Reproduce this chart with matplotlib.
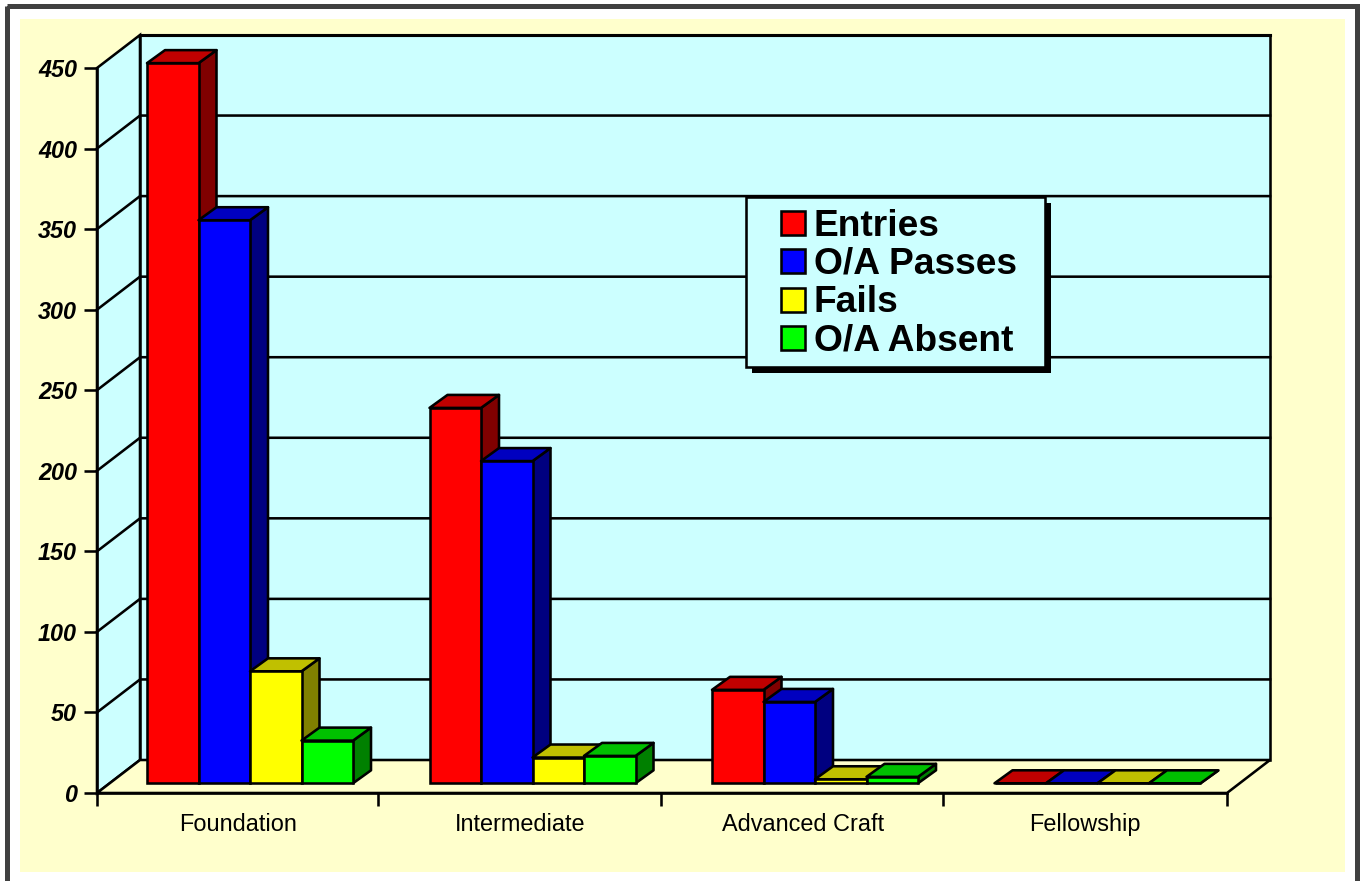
import matplotlib
matplotlib.use("Agg")
import matplotlib.pyplot as plt
import matplotlib.patheffects as pe
from matplotlib.legend_handler import HandlerPatch
from matplotlib.patches import Patch, Rectangle
from matplotlib.transforms import Affine2D

# ---- data ----
categories = ["Foundation", "Intermediate", "Advanced Craft", "Fellowship"]
series_names = ["Entries", "O/A Passes", "Fails", "O/A Absent"]
entries = [447, 233, 58, 0]
passes = [349.5, 200, 50.5, 0]
fails = [69.5, 16, 2.5, 0]
absent = [26.5, 17, 4, 0]
y_ticks = [0, 50, 100, 150, 200, 250, 300, 350, 400, 450]

# ---- styles ----
series_values = [entries, passes, fails, absent]
front_colors = ["#FF0000", "#0000FF", "#FFFF00", "#00FF00"]
side_colors = ["#800000", "#000080", "#808000", "#008000"]
top_colors = ["#C00000", "#0000C0", "#C0C000", "#00C000"]
WALL = "#CCFFFF"
PANEL = "#FFFFCC"
FRAME = "#404040"
W, H = 1364, 881
LW = 1.85

plt.rcParams["font.family"] = ["Liberation Sans", "DejaVu Sans"]
fig = plt.figure(figsize=(W / 100, H / 100), dpi=100, facecolor="white")

# pixel transform with a top-left origin, for the page decoration only
page = Affine2D().scale(1, -1).translate(0, H)
fig.add_artist(Rectangle((6.5, 5.5), 1350, 890, fill=False, ec=FRAME, lw=3.6, transform=page, zorder=-2))
fig.add_artist(Rectangle((20, 19), 1324.5, 853, fc=PANEL, ec="none", transform=page, zorder=-1))

ax = fig.add_axes([97 / W, (H - 793) / H, 1130 / W, 725 / H])
ax.patch.set_visible(False)
ax.set_xlim(0, 4)
ax.set_ylim(0, 450)

# oblique depth of the chart box, expressed in data units
px_x = 4 / 1130
px_y = 450 / 725
DX, DY = 43 * px_x, 33 * px_y
n = len(categories)
top = y_ticks[-1]

# walls and floor
ax.fill([0, DX, DX, 0], [0, DY, top + DY, top], fc=WALL, ec="black", lw=LW, clip_on=False, zorder=1)
ax.fill([DX, n + DX, n + DX, DX], [DY, DY, top + DY, top + DY], fc=WALL, ec="black", lw=LW, clip_on=False, zorder=1)
ax.fill([0, n, n + DX, DX], [0, 0, DY, DY], fc=PANEL, ec="black", lw=LW, clip_on=False, zorder=1)
for t in y_ticks[1:-1]:
    ax.plot([0, DX, n + DX], [t, t + DY, t + DY], color="black", lw=LW, clip_on=False, zorder=1.5)
ax.plot([DX, n + DX], [top + DY, top + DY], color="black", lw=LW * 1.2, clip_on=False, zorder=1.5)

# bars
front_x = 13 * px_x
front_y = 9.7 * px_y
depth_x = 18 * px_x
depth_y = 13 * px_y
gap = 37 * px_x
bar_w = 51.5 * px_x
z = 3
for c in range(n):
    for s, vals in enumerate(series_values):
        v = vals[c]
        x0 = c + gap + front_x + s * bar_w
        x1 = x0 + bar_w
        y0 = front_y
        y1 = front_y + v
        ax.fill([x1, x1 + depth_x, x1 + depth_x, x1], [y0, y0 + depth_y, y1 + depth_y, y1],
                fc=side_colors[s], ec="black", lw=LW, joinstyle="round", clip_on=False, zorder=z)
        ax.fill([x0, x1, x1 + depth_x, x0 + depth_x], [y1, y1, y1 + depth_y, y1 + depth_y],
                fc=top_colors[s], ec="black", lw=LW, joinstyle="round", clip_on=False, zorder=z)
        ax.bar(x0, v, width=bar_w, bottom=y0, align="edge", color=front_colors[s],
               edgecolor="black", linewidth=LW, clip_on=False, zorder=z + 0.5)
        z += 1

# axes, ticks, labels
for side in ("top", "right"):
    ax.spines[side].set_visible(False)
for side in ("left", "bottom"):
    ax.spines[side].set_linewidth(LW)
    ax.spines[side].set_zorder(2)
ax.set_yticks(y_ticks)
ax.set_yticklabels([str(t) for t in y_ticks], fontsize=16.8, fontweight="bold", fontstyle="italic")
ax.tick_params(axis="y", length=9.4, width=LW, pad=5)
ax.set_xticks([i - 1.2 * px_x if 0 < i < n else i for i in range(n + 1)])
ax.set_xticklabels([])
ax.set_xticks([i + 0.5 - 0.6 * px_x for i in range(n)], minor=True)
ax.set_xticklabels(categories, minor=True, fontsize=16.9)
ax.tick_params(axis="x", which="major", length=9.4, width=LW)
ax.tick_params(axis="x", which="minor", length=0, pad=14.3)


# legend
def square_handle(legend, orig_handle, xdescent, ydescent, width, height, fontsize):
    side = 24 * 0.72
    return Rectangle((width - side - xdescent, height / 2 - side / 2 - ydescent - 1.44), side, side)


handles = [Patch(fc=c, ec="black", lw=LW, label=name) for c, name in zip(front_colors, series_names)]
leg = fig.legend(
    handles=handles,
    loc="upper left",
    mode="expand",
    bbox_to_anchor=(746.5 / W, (H - 369) / H, 298.5 / W, 172 / H),
    bbox_transform=fig.transFigure,
    borderaxespad=0,
    borderpad=0.27,
    prop={"size": 26.7, "weight": "bold", "family": "Liberation Sans"},
    handlelength=1.3,
    handleheight=0.7,
    handletextpad=0.25,
    labelspacing=0.09,
    fancybox=False,
    framealpha=1,
    facecolor=WALL,
    edgecolor="black",
    handler_map={Patch: HandlerPatch(patch_func=square_handle)},
)
for label in leg.get_texts():
    label.set_y(-1.5)
leg.set_zorder(50)
leg.get_frame().set_linewidth(LW)
leg.get_frame().set_path_effects([
    pe.SimplePatchShadow(offset=(4.3, -4.3), shadow_rgbFace="black", alpha=1),
    pe.Normal(),
])

fig.savefig("out.png", dpi=100, facecolor="white")
